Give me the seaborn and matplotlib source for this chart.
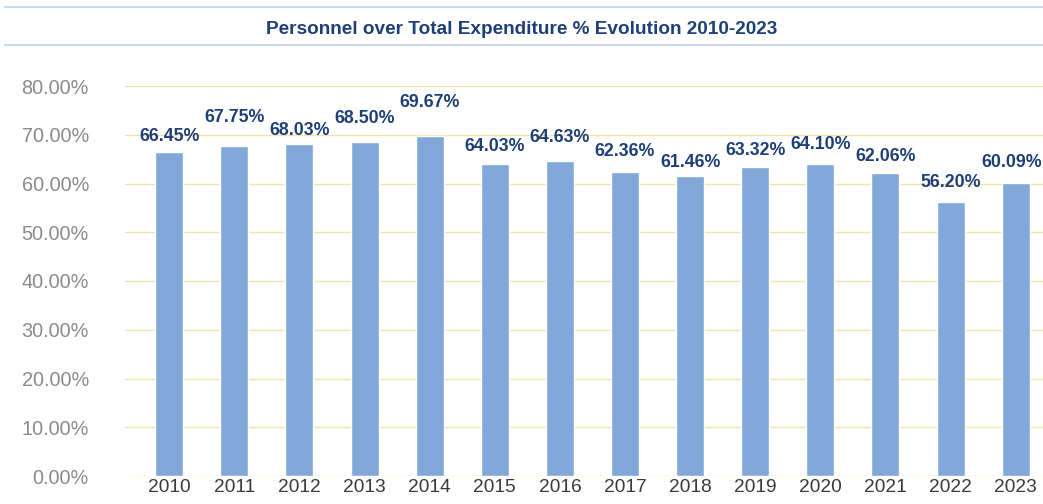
import numpy as np
import pandas as pd
import seaborn as sns
import matplotlib.pyplot as plt
from matplotlib.lines import Line2D

years = ["2010", "2011", "2012", "2013", "2014", "2015", "2016",
         "2017", "2018", "2019", "2020", "2021", "2022", "2023"]
values = [66.45, 67.75, 68.03, 68.50, 69.67, 64.03, 64.63,
          62.36, 61.46, 63.32, 64.10, 62.06, 56.20, 60.09]

# label placement above each bar (pixels), as laid out in the original
label_dy = [16, 28, 14, 24, 34, 17, 23, 20, 14, 17, 19, 17, 20, 21]
label_dx = [0, 0, 0, 0, 0, 0, 0, 0, 0, 0, 0, 0, 0, -4]

df = pd.DataFrame({"Year": years, "Pct": values})

sns.set_theme(style="white")
plt.rcParams["font.family"] = ["Liberation Sans", "DejaVu Sans"]

fig = plt.figure(figsize=(10.43, 5.04), dpi=100)
ax = fig.add_axes([125 / 1043, 28 / 504, 918 / 1043, 390 / 504])

sns.barplot(data=df, x="Year", y="Pct", color="#82A8DA", saturation=1,
            width=0.43, ax=ax, zorder=3)

ax.set_ylim(0, 80)
ax.set_xlim(-0.68, 13.42)
ax.set_yticks(np.arange(0, 81, 10))
ax.set_yticklabels([f"{v:.2f}%" for v in np.arange(0, 81, 10)])
ax.yaxis.grid(True, color="#F2E3A8", linewidth=1.0, zorder=0)
ax.xaxis.grid(False)
for s in ax.spines.values():
    s.set_visible(False)
ax.tick_params(axis="y", labelsize=14.3, labelcolor="#8A8A8A", length=0, pad=26)
ax.tick_params(axis="x", labelsize=13.8, labelcolor="#3A3A3A", length=0, pad=2)
ax.set_xlabel("")
ax.set_ylabel("")

# value labels
for i, bar in enumerate(ax.patches):
    x = bar.get_x() + bar.get_width() / 2
    ax.annotate(f"{values[i]:.2f}%", (x, bar.get_height()),
                xytext=(label_dx[i] * 0.72, label_dy[i] * 0.72),
                textcoords="offset points", ha="center", va="center",
                fontsize=12.8, color="#1F3F78", fontweight="bold", zorder=4)

fig.text(0.5, 1 - 30 / 504, "Personnel over Total Expenditure % Evolution 2010-2023",
         ha="center", va="center", fontsize=13.7, fontweight="bold", color="#1F3F78")
for yy in (7, 45):
    fig.add_artist(Line2D([5 / 1043, 1], [1 - yy / 504, 1 - yy / 504],
                          color="#C9D8EA", linewidth=1.5, transform=fig.transFigure))

fig.savefig("out.png", dpi=100)
